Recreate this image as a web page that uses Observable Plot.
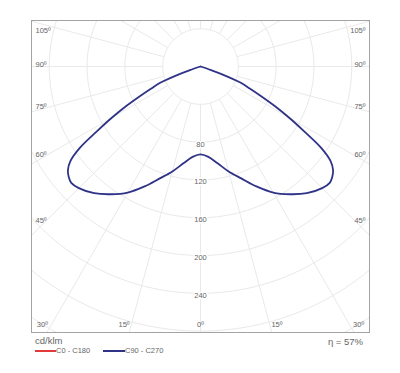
<!DOCTYPE html>
<html>
<head>
<meta charset="utf-8">
<script src="https://cdn.jsdelivr.net/npm/d3@7"></script>
<script src="https://cdn.jsdelivr.net/npm/@observablehq/plot@0.6"></script>
<style>
  html, body { margin: 0; padding: 0; background: #fff; }
  #wrap { width: 400px; font-family: "Liberation Sans", Arial, sans-serif; color: #666; }
  #legend { position: relative; width: 400px; height: 37px; }
  #legend span, #legend i { position: absolute; white-space: nowrap; }
</style>
</head>
<body>
<div id="wrap">
  <div id="chart"></div>
  <div id="legend"></div>
</div>
<script>
// ---- data ----
const unit = "cd/klm";
const efficiency = "η = 57%";
// gamma angle (deg from nadir) and luminous intensity (cd/klm), C90 - C270 plane
const gamma     = [0, 5, 10, 15, 20, 25, 30, 35, 40, 45, 48, 50, 52, 54, 56, 58, 60, 62, 64, 66, 68, 70, 71, 72];
const intensity = [93, 96, 104, 115, 126, 140, 154, 165, 175, 182, 184, 182, 178, 170, 154, 129, 108, 89, 71, 57, 46, 25, 12, 0];
const ringValues = [40, 80, 120, 160, 200, 240, 280, 320, 360];
const ringLabels = [80, 120, 160, 200, 240];
const spokeAngles = d3.range(0, 360, 15);
const sideLabelAngles = [45, 60, 75, 90, 105];
const bottomLabelAngles = [0, 15, 30];
const series = [
  {name: "C0 - C180", color: "#e03a3a"},
  {name: "C90 - C270", color: "#2f3387"}
];

// ---- geometry helpers (polar -> cartesian in data units) ----
const rad = Math.PI / 180;
const px = (g, r) => r * Math.sin(g * rad);
const py = (g, r) => -r * Math.cos(g * rad);

const ringPts = ringValues.flatMap(r => d3.range(0, 361, 2).map(a => ({r, x: px(a, r), y: py(a, r)})));
const spokes = spokeAngles.map(a => ({x1: px(a, 40), y1: py(a, 40), x2: px(a, 500), y2: py(a, 500)}));

const curvePts = [];
for (let i = gamma.length - 1; i >= 0; i--) curvePts.push({x: px(-gamma[i], intensity[i]), y: py(gamma[i], intensity[i])});
for (let i = 1; i < gamma.length; i++) curvePts.push({x: px(gamma[i], intensity[i]), y: py(gamma[i], intensity[i])});

// angle labels
const xEdge = 174.6, sideDist = 167.2, yTopClamp = 38, yBottom = -273;
const leftLabels = [], rightLabels = [], bottomLabels = [];
for (const a of sideLabelAngles) {
  const y = Math.min(yTopClamp, -sideDist / Math.tan((a + 0.8) * rad));
  leftLabels.push({x: -xEdge, y, text: a + "º"});
  rightLabels.push({x: xEdge, y, text: a + "º"});
}
for (const a of bottomLabelAngles) {
  if (a === 0) { bottomLabels.push({x: 0, y: yBottom, text: "0º"}); continue; }
  const x = -yBottom * Math.tan((a + 1.5) * rad);
  bottomLabels.push({x: -x, y: yBottom, text: a + "º"});
  bottomLabels.push({x: x, y: yBottom, text: a + "º"});
}
const ringLabelData = ringLabels.map(v => ({x: 0, y: -v, text: String(v)}));

const grid = "#e9e9e9";
const txt = {x: "x", y: "y", text: "text", fontSize: 7.5, fill: "#666"};
const chart = Plot.plot({
  width: 400,
  height: 336,
  marginLeft: 31,
  marginRight: 31,
  marginTop: 20,
  marginBottom: 4,
  style: {fontFamily: "Liberation Sans, Arial, sans-serif", background: "white"},
  x: {domain: [-178.8, 178.8], axis: null},
  y: {domain: [-281.5, 48.7], axis: null},
  marks: [
    Plot.line(ringPts, {x: "x", y: "y", z: "r", stroke: grid, strokeWidth: 1, clip: true}),
    Plot.link(spokes, {x1: "x1", y1: "y1", x2: "x2", y2: "y2", stroke: grid, strokeWidth: 1, clip: true}),
    Plot.line(curvePts, {x: "x", y: "y", stroke: series[1].color, strokeWidth: 1.8, curve: "catmull-rom", clip: true}),
    Plot.text(ringLabelData, {...txt, dy: 2, stroke: "white", strokeWidth: 3}),
    Plot.text(leftLabels, {...txt, textAnchor: "start"}),
    Plot.text(rightLabels, {...txt, textAnchor: "end"}),
    Plot.text(bottomLabels, {...txt, textAnchor: "middle"}),
    Plot.frame({stroke: "#a3a3a3", strokeWidth: 1})
  ]
});
document.getElementById("chart").appendChild(chart);

// legend (HTML below the SVG)
const lg = document.getElementById("legend");
lg.innerHTML =
  `<span style="left:35px;top:0;font-size:9.5px;line-height:10px;">${unit}</span>` +
  `<span style="right:37px;top:1px;font-size:9.5px;line-height:10px;">${efficiency}</span>` +
  `<i style="left:35px;top:14px;width:21px;height:2px;background:${series[0].color}"></i>` +
  `<span style="left:56px;top:11px;font-size:7.5px;line-height:8px;">${series[0].name}</span>` +
  `<i style="left:103px;top:14px;width:22px;height:2px;background:${series[1].color}"></i>` +
  `<span style="left:125px;top:11px;font-size:7.5px;line-height:8px;">${series[1].name}</span>`;
</script>
</body>
</html>
